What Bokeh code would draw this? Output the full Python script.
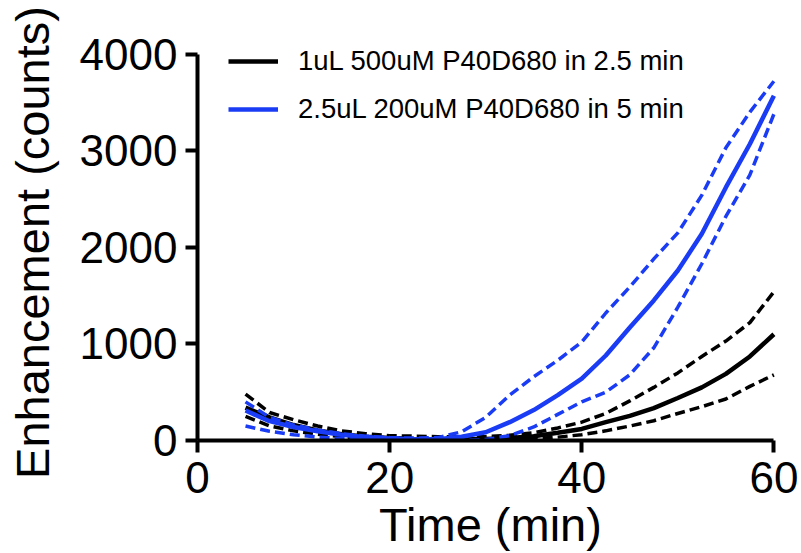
from bokeh.plotting import figure
from bokeh.models import Range1d, Legend, LegendItem, FixedTicker
from bokeh.embed import file_html
from bokeh.resources import INLINE

# Time (min)
time = [5, 7.5, 10, 12.5, 15, 17.5, 20, 22.5, 25, 27.5, 30, 32.5, 35, 37.5,
        40, 42.5, 45, 47.5, 50, 52.5, 55, 57.5, 60]

# 1uL 500uM P40D680 in 2.5 min (black)
black_mean = [340, 240, 160, 105, 65, 40, 25, 15, 12, 12, 15, 25, 45, 80,
              120, 190, 255, 335, 440, 550, 690, 870, 1100]
black_upper = [480, 290, 215, 150, 100, 70, 50, 45, 40, 35, 40, 55, 80, 130,
               190, 280, 410, 550, 700, 870, 1030, 1220, 1540]
black_lower = [250, 150, 100, 65, 40, 20, 10, 5, 3, 3, 5, 10, 20, 35,
               60, 100, 150, 205, 280, 350, 430, 560, 680]

# 2.5uL 200uM P40D680 in 5 min (blue)
blue_mean = [310, 200, 140, 95, 60, 35, 20, 12, 12, 38, 85, 190, 315, 470,
             640, 880, 1170, 1450, 1760, 2140, 2620, 3070, 3570]
blue_upper = [400, 240, 160, 110, 70, 45, 30, 25, 30, 90, 240, 470, 660, 830,
              1020, 1320, 1590, 1880, 2150, 2540, 3030, 3400, 3720]
blue_lower = [150, 95, 60, 35, 20, 10, 5, 3, 2, 3, 10, 50, 140, 270,
              400, 500, 680, 960, 1380, 1830, 2320, 2750, 3380]

x_ticks = [0, 20, 40, 60]
y_ticks = [0, 1000, 2000, 3000, 4000]
labels = ["1uL 500uM P40D680 in 2.5 min", "2.5uL 200uM P40D680 in 5 min"]

BLACK = "#000000"
BLUE = "#1a3cf5"
FONT = "Liberation Sans"

p = figure(width=801, height=553, output_backend="svg", toolbar_location=None,
           x_range=Range1d(0, 61), y_range=Range1d(0, 4100),
           min_border_left=197, min_border_right=18,
           min_border_top=44, min_border_bottom=100)
p.outline_line_color = None
p.grid.visible = False
p.background_fill_color = "white"

r_b = p.line(time, black_mean, line_color=BLACK, line_width=4.5)
p.line(time, black_upper, line_color=BLACK, line_width=3.5, line_dash="10 5")
p.line(time, black_lower, line_color=BLACK, line_width=3.5, line_dash="10 5")

r_u = p.line(time, blue_mean, line_color=BLUE, line_width=4.5)
p.line(time, blue_upper, line_color=BLUE, line_width=3.5, line_dash="10 5")
p.line(time, blue_lower, line_color=BLUE, line_width=3.5, line_dash="10 5")

for ax in (p.xaxis[0], p.yaxis[0]):
    ax.axis_line_width = 4
    ax.axis_line_color = "black"
    ax.major_tick_line_width = 4
    ax.major_tick_out = 12
    ax.major_tick_in = 0
    ax.minor_tick_out = 0
    ax.minor_tick_in = 0
    ax.major_label_text_font = FONT
    ax.major_label_text_font_size = "44px"
    ax.major_label_text_color = "black"
    ax.axis_label_text_font = FONT
    ax.axis_label_text_font_size = "47px"
    ax.axis_label_text_font_style = "normal"
    ax.axis_label_text_color = "black"

p.xaxis.ticker = FixedTicker(ticks=x_ticks)
p.yaxis.ticker = FixedTicker(ticks=y_ticks)
p.xaxis.bounds = (0, 60)
p.yaxis.bounds = (0, 4000)
p.xaxis.axis_label = "Time (min)"
p.yaxis.axis_label = "Enhancement (counts)"
p.xaxis.major_label_standoff = 9
p.yaxis.major_label_standoff = 8
p.xaxis.axis_label_standoff = 2
p.yaxis.axis_label_standoff = 18

legend = Legend(items=[LegendItem(label=labels[0], renderers=[r_b]),
                       LegendItem(label=labels[1], renderers=[r_u])],
                location=(31, 311), orientation="vertical",
                glyph_width=50, glyph_height=40, label_height=40,
                label_standoff=20, spacing=8, padding=0, margin=0,
                border_line_color=None, background_fill_alpha=0,
                label_text_font=FONT, label_text_font_size="27.5px",
                label_text_color="black")
p.add_layout(legend)

open("out.html", "w").write(file_html(p, INLINE))
